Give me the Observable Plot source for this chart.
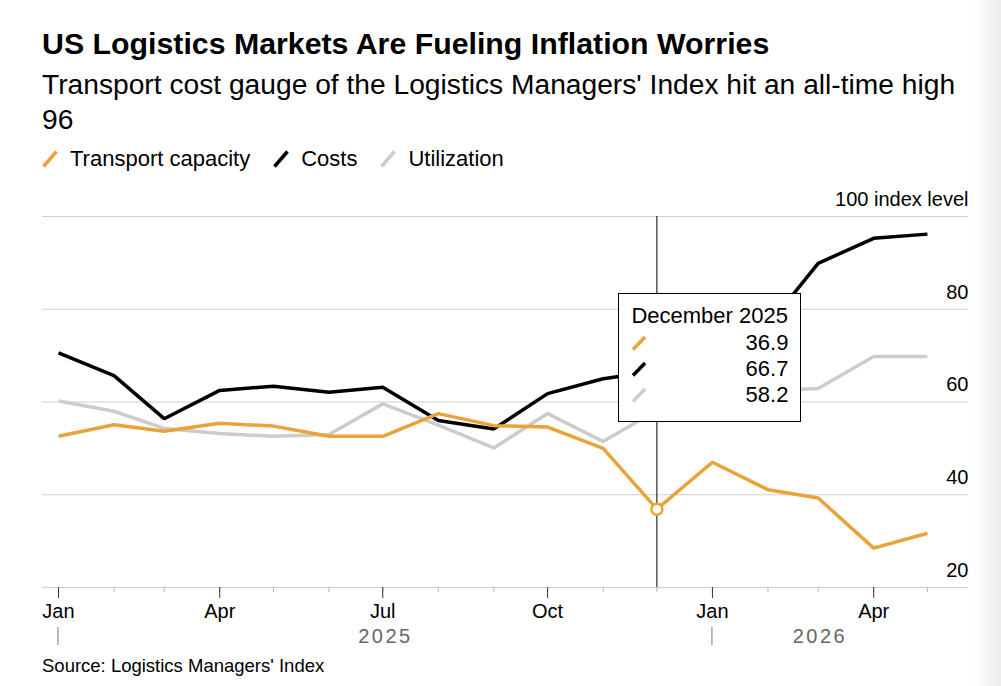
<!DOCTYPE html>
<html><head><meta charset="utf-8">
<script src="https://cdn.jsdelivr.net/npm/d3@7"></script>
<script src="https://cdn.jsdelivr.net/npm/@observablehq/plot@0.6"></script>
<style>
body{margin:0;background:#fff;font-family:"Liberation Sans",Arial,Helvetica,sans-serif;color:#000;width:1001px;height:686px;overflow:hidden;position:relative}
#title{position:absolute;left:42px;top:26px;font-size:30.3px;font-weight:bold;line-height:36px;white-space:nowrap}
#subtitle{position:absolute;left:42px;top:67px;font-size:28.2px;line-height:35px;white-space:nowrap}
#legend{position:absolute;left:42px;top:145px;font-size:22px;line-height:28px;display:flex;align-items:center;white-space:nowrap}
#legend .item{display:flex;align-items:center;margin-right:23px}
#legend svg{margin-right:12px}
#chart{position:absolute;left:0;top:180px}
#source{position:absolute;left:42px;top:655px;font-size:18.5px;line-height:22px;white-space:nowrap}
#tooltip{position:absolute;background:#fff;border:1px solid #000;box-sizing:border-box;padding:8px 12px 0 12px;font-size:22px}
#tooltip .hdr{line-height:28px;white-space:nowrap}
#tooltip .row{display:flex;align-items:center;justify-content:space-between;line-height:26px}
#edge{position:absolute;right:0;top:0;width:28px;height:686px;background:linear-gradient(to right,rgba(0,0,0,0),rgba(0,0,0,0.07))}
</style>
</head><body>
<div id="title">US Logistics Markets Are Fueling Inflation Worries</div>
<div id="subtitle">Transport cost gauge of the Logistics Managers' Index hit an all-time high<br>96</div>
<div id="legend"></div>
<div id="chart"></div>
<div id="source">Source: Logistics Managers' Index</div>
<div id="edge"></div>
<script>
// ---- data ----
const months = ["2025-01-01","2025-02-01","2025-03-01","2025-04-01","2025-05-01","2025-06-01","2025-07-01","2025-08-01","2025-09-01","2025-10-01","2025-11-01","2025-12-01","2026-01-01","2026-02-01","2026-03-01","2026-04-01","2026-05-01"];
const transportCapacity = [52.6,55.1,53.7,55.4,54.8,52.6,52.6,57.5,54.9,54.6,50.0,36.9,47.0,41.1,39.3,28.5,31.7];
const costs = [70.6,65.7,56.4,62.5,63.4,62.1,63.2,56.0,54.2,61.8,65.0,66.7,70.5,76.5,89.9,95.3,96.2];
const utilization = [60.2,58.0,54.3,53.2,52.6,53.0,59.6,55.0,50.1,57.5,51.5,58.2,61.0,62.4,62.9,69.8,69.8];
const seriesNames = ["Transport capacity","Costs","Utilization"];
const seriesColors = ["#eaa23a","#000000","#cccccc"];
const yTicks = [20,40,60,80,100];
const majorTicks = ["2025-01-01","2025-04-01","2025-07-01","2025-10-01","2026-01-01","2026-04-01"];
const yearLabels = ["2025","2026"];
const yearSpans = [["2025-01-01","2026-01-01"],["2026-01-01","2026-05-01"]];
const highlightIndex = 11; // December 2025
const highlightLabel = "December 2025";

const dates = months.map(d => new Date(d + "T00:00:00Z"));
const values = [transportCapacity, costs, utilization];
const data = seriesNames.flatMap((name, s) => dates.map((date, i) => ({date, value: values[s][i], series: name})));
const colorOf = Object.fromEntries(seriesNames.map((n, i) => [n, seriesColors[i]]));

// legend
const legend = document.getElementById("legend");
seriesNames.forEach((n, i) => {
  const it = document.createElement("span");
  it.className = "item";
  it.innerHTML = `<svg width="16" height="18"><line x1="1.5" y1="16.5" x2="14.5" y2="1.5" stroke="${seriesColors[i]}" stroke-width="3.5"/></svg><span>${n}</span>`;
  legend.appendChild(it);
});

const font = '"Liberation Sans",Arial,Helvetica,sans-serif';
const xDomain = [new Date(Date.UTC(2024,11,23,2)), new Date(Date.UTC(2026,4,23,22))];
const drawOrder = ["Utilization","Costs","Transport capacity"];
const hDate = dates[highlightIndex];

const plot = Plot.plot({
  width: 1001, height: 477,
  marginLeft: 42, marginRight: 33, marginTop: 36, marginBottom: 70,
  style: {fontFamily: font, fontSize: "20px", background: "transparent", color: "#000", overflow: "visible"},
  x: {type: "utc", domain: xDomain, axis: null},
  y: {domain: [20, 100], axis: null},
  marks: [
    Plot.ruleY(yTicks, {stroke: "#cfcfcf", strokeWidth: 1}),
    Plot.text(yTicks, {y: d => d, frameAnchor: "right", textAnchor: "end", dy: -17, lineAnchor: "middle",
      text: d => d === 100 ? "100 index level" : String(d), fontSize: 20, fill: "#000"}),
    Plot.axisX({ticks: dates, tickSize: 5, tickFormat: () => "", stroke: "#b5b5b5"}),
    Plot.axisX({ticks: majorTicks.map(d => new Date(d + "T00:00:00Z")), tickSize: 11, tickPadding: 5,
      tickFormat: d3.utcFormat("%b"), fontSize: 20, stroke: "#333", fill: "#000"}),
    Plot.text(yearLabels, {x: (d, i) => new Date((Date.parse(yearSpans[i][0]) + Date.parse(yearSpans[i][1])) / 2),
      frameAnchor: "bottom", dy: 49, lineAnchor: "middle", fontSize: 20, fill: "#666", text: d => d}),
    ...drawOrder.map(name => Plot.line(data.filter(d => d.series === name), {x: "date", y: "value",
      stroke: colorOf[name], strokeWidth: 3.5, strokeLinejoin: "miter", strokeLinecap: "butt"})),
    Plot.ruleX([hDate], {stroke: "#000", strokeWidth: 1}),
    Plot.dot([{date: hDate, value: transportCapacity[highlightIndex]}], {x: "date", y: "value", r: 5.5,
      fill: "#fff", stroke: seriesColors[0], strokeWidth: 2.5})
  ]
});
document.getElementById("chart").appendChild(plot);

// letter spacing on year labels
d3.select(plot).selectAll("text").filter(function(){ return yearLabels.includes(this.textContent); })
  .attr("letter-spacing", "2.5px");

const xs = plot.scale("x"), ys = plot.scale("y");
// year start markers
const svg = d3.select(plot);
const bottom = ys.apply(20);
yearSpans.forEach(sp => {
  const px = xs.apply(new Date(sp[0] + "T00:00:00Z"));
  svg.append("line").attr("x1", px).attr("x2", px).attr("y1", bottom + 40).attr("y2", bottom + 58)
    .attr("stroke", "#777").attr("stroke-width", 1);
});

// tooltip
const fmt = d3.format(".1f");
const tip = document.createElement("div");
tip.id = "tooltip";
const hx = xs.apply(hDate);
tip.style.left = (hx - 38) + "px";
tip.style.top = (180 + ys.apply(80) - 16) + "px";
tip.style.width = "183px";
tip.style.height = "129px";
let html = `<div class="hdr">${highlightLabel}</div>`;
seriesNames.forEach((n, i) => {
  html += `<div class="row"><svg width="16" height="16"><line x1="2" y1="14.5" x2="14" y2="2" stroke="${seriesColors[i]}" stroke-width="3.5"/></svg><span>${fmt(values[i][highlightIndex])}</span></div>`;
});
tip.innerHTML = html;
document.body.appendChild(tip);
</script>
</body></html>
